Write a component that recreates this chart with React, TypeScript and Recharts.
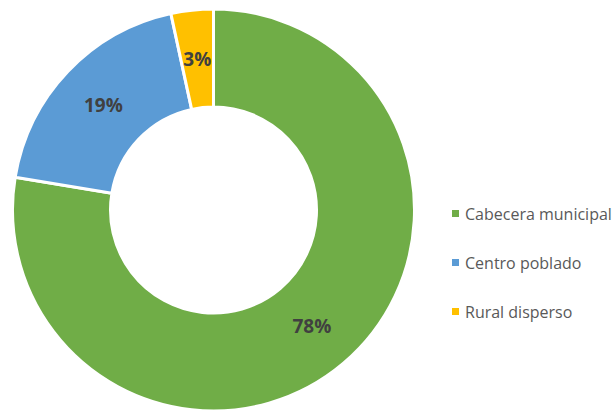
import { PieChart, Pie, Cell, Legend } from "recharts";

const categories = ["Cabecera municipal", "Centro poblado", "Rural disperso"];
const shares = [77.6, 19.0, 3.4];
const shareLabels = ["78%", "19%", "3%"];
const colors = ["#70AD47", "#5B9BD5", "#FFC000"];

const data = categories.map((name, i) => ({
  name,
  value: shares[i],
  label: shareLabels[i],
}));

const RAD = Math.PI / 180;

function SliceLabel(props: any) {
  const { cx, cy, midAngle, innerRadius, outerRadius, index } = props;
  const r = (innerRadius + outerRadius) / 2;
  const x = cx + r * Math.cos(-midAngle * RAD);
  const y = cy + r * Math.sin(-midAngle * RAD);
  return (
    <text
      x={x}
      y={y}
      textAnchor="middle"
      dominantBaseline="central"
      fill="#404040"
      fontSize={19}
      fontWeight="bold"
      fontFamily="'Open Sans', sans-serif"
    >
      {data[index].label}
    </text>
  );
}

function LegendBox() {
  return (
    <div style={{ fontFamily: "'Open Sans', sans-serif", fontSize: 16, color: "#595959" }}>
      {data.map((d, i) => (
        <div
          key={d.name}
          style={{ display: "flex", alignItems: "center", height: 49, whiteSpace: "nowrap" }}
        >
          <span
            style={{
              width: 7,
              height: 7,
              background: colors[i],
              marginRight: 6,
              display: "inline-block",
            }}
          />
          {d.name}
        </div>
      ))}
    </div>
  );
}

export default function App() {
  return (
    <div style={{ position: "absolute", left: 0, top: 0, width: 616, height: 410, background: "#fff" }}>
      <PieChart width={616} height={410} margin={{ top: 0, right: 0, bottom: 0, left: 0 }}>
        <Pie
          data={data}
          dataKey="value"
          nameKey="name"
          cx={213.5}
          cy={210}
          innerRadius={103}
          outerRadius={201}
          startAngle={90}
          endAngle={-270}
          stroke="#ffffff"
          strokeWidth={3}
          label={SliceLabel}
          labelLine={false}
          isAnimationActive={false}
        >
          {data.map((d, i) => (
            <Cell key={d.name} fill={colors[i]} />
          ))}
        </Pie>
        <Legend
          layout="vertical"
          align="right"
          verticalAlign="top"
          content={() => <LegendBox />}
          wrapperStyle={{ left: 452, top: 189, width: 164 }}
        />
      </PieChart>
    </div>
  );
}
